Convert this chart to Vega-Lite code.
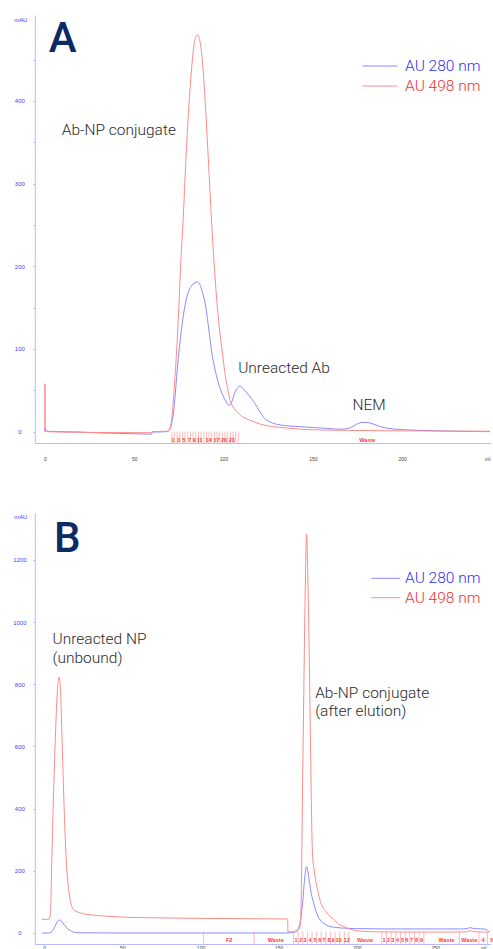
{
  "$schema": "https://vega.github.io/schema/vega-lite/v6.json",
  "padding": {"left": 11.8, "top": 15, "right": 0, "bottom": 0},
  "spacing": 70,
  "bounds": "flush",
  "config": {
    "view": {"stroke": null},
    "axis": {"grid": false, "domainColor": "#b9b9ff", "tickColor": "#b9b9ff", "labelFont": "Liberation Sans", "titleFont": "Liberation Sans", "titleFontWeight": "normal"},
    "legend": {"orient": "none", "title": null, "symbolSize": 64, "symbolStrokeWidth": 1, "labelFont": "Roboto", "labelFontWeight": 300, "labelFontSize": 15.5, "padding": 0, "labelLimit": 300}
  },
  "datasets": {
    "curvesA": [
      {"ml": 0, "mAU": 0, "s": "AU 280 nm"}, {"ml": 0.3, "mAU": 5, "s": "AU 280 nm"}, {"ml": 0.8, "mAU": 1, "s": "AU 280 nm"}, {"ml": 2, "mAU": 0.5, "s": "AU 280 nm"}, {"ml": 10, "mAU": 0, "s": "AU 280 nm"}, {"ml": 20, "mAU": -0.5, "s": "AU 280 nm"}, {"ml": 30, "mAU": -1.5, "s": "AU 280 nm"}, {"ml": 40, "mAU": -2, "s": "AU 280 nm"}, {"ml": 50, "mAU": -2.5, "s": "AU 280 nm"}, {"ml": 59.8, "mAU": -3, "s": "AU 280 nm"}, {"ml": 60, "mAU": -0.5, "s": "AU 280 nm"}, {"ml": 65, "mAU": -0.3, "s": "AU 280 nm"}, {"ml": 68, "mAU": 0, "s": "AU 280 nm"}, {"ml": 69, "mAU": 0.5, "s": "AU 280 nm"}, {"ml": 70, "mAU": 3, "s": "AU 280 nm"}, {"ml": 71, "mAU": 10, "s": "AU 280 nm"}, {"ml": 72, "mAU": 22, "s": "AU 280 nm"}, {"ml": 73, "mAU": 45, "s": "AU 280 nm"}, {"ml": 74, "mAU": 72, "s": "AU 280 nm"}, {"ml": 75, "mAU": 95, "s": "AU 280 nm"}, {"ml": 76, "mAU": 115, "s": "AU 280 nm"}, {"ml": 77, "mAU": 132, "s": "AU 280 nm"}, {"ml": 78, "mAU": 147, "s": "AU 280 nm"}, {"ml": 79, "mAU": 158, "s": "AU 280 nm"}, {"ml": 80, "mAU": 167, "s": "AU 280 nm"}, {"ml": 82, "mAU": 176, "s": "AU 280 nm"}, {"ml": 84, "mAU": 180, "s": "AU 280 nm"}, {"ml": 85.4, "mAU": 181, "s": "AU 280 nm"}, {"ml": 87, "mAU": 177, "s": "AU 280 nm"}, {"ml": 88, "mAU": 170, "s": "AU 280 nm"}, {"ml": 90, "mAU": 152, "s": "AU 280 nm"}, {"ml": 92, "mAU": 120, "s": "AU 280 nm"}, {"ml": 93.5, "mAU": 95, "s": "AU 280 nm"}, {"ml": 95, "mAU": 78, "s": "AU 280 nm"}, {"ml": 97, "mAU": 60, "s": "AU 280 nm"}, {"ml": 98.5, "mAU": 50, "s": "AU 280 nm"}, {"ml": 100, "mAU": 42, "s": "AU 280 nm"}, {"ml": 101.5, "mAU": 36, "s": "AU 280 nm"}, {"ml": 103, "mAU": 32, "s": "AU 280 nm"}, {"ml": 104, "mAU": 33, "s": "AU 280 nm"}, {"ml": 105, "mAU": 38, "s": "AU 280 nm"}, {"ml": 106, "mAU": 45, "s": "AU 280 nm"}, {"ml": 107.5, "mAU": 52, "s": "AU 280 nm"}, {"ml": 109.3, "mAU": 55, "s": "AU 280 nm"}, {"ml": 111, "mAU": 52, "s": "AU 280 nm"}, {"ml": 113, "mAU": 47, "s": "AU 280 nm"}, {"ml": 115, "mAU": 42, "s": "AU 280 nm"}, {"ml": 117, "mAU": 36, "s": "AU 280 nm"}, {"ml": 119, "mAU": 29, "s": "AU 280 nm"}, {"ml": 121, "mAU": 22, "s": "AU 280 nm"}, {"ml": 123, "mAU": 16, "s": "AU 280 nm"}, {"ml": 125, "mAU": 13, "s": "AU 280 nm"}, {"ml": 128, "mAU": 10, "s": "AU 280 nm"}, {"ml": 132, "mAU": 8, "s": "AU 280 nm"}, {"ml": 136, "mAU": 7, "s": "AU 280 nm"}, {"ml": 143, "mAU": 6, "s": "AU 280 nm"}, {"ml": 150, "mAU": 5, "s": "AU 280 nm"}, {"ml": 158, "mAU": 4, "s": "AU 280 nm"}, {"ml": 165, "mAU": 3, "s": "AU 280 nm"}, {"ml": 170, "mAU": 4, "s": "AU 280 nm"}, {"ml": 173, "mAU": 7, "s": "AU 280 nm"}, {"ml": 176, "mAU": 10.5, "s": "AU 280 nm"}, {"ml": 178, "mAU": 11.3, "s": "AU 280 nm"}, {"ml": 181, "mAU": 11, "s": "AU 280 nm"}, {"ml": 184, "mAU": 9, "s": "AU 280 nm"}, {"ml": 188, "mAU": 6, "s": "AU 280 nm"}, {"ml": 192, "mAU": 4, "s": "AU 280 nm"}, {"ml": 200, "mAU": 2.5, "s": "AU 280 nm"}, {"ml": 210, "mAU": 1.5, "s": "AU 280 nm"}, {"ml": 220, "mAU": 1, "s": "AU 280 nm"}, {"ml": 230, "mAU": 0.5, "s": "AU 280 nm"}, {"ml": 240, "mAU": 0.3, "s": "AU 280 nm"}, {"ml": 249, "mAU": 0, "s": "AU 280 nm"},
      {"ml": 0, "mAU": 0, "s": "AU 498 nm"}, {"ml": 0.05, "mAU": 58, "s": "AU 498 nm"}, {"ml": 0.25, "mAU": 2, "s": "AU 498 nm"}, {"ml": 1, "mAU": 0, "s": "AU 498 nm"}, {"ml": 10, "mAU": -0.5, "s": "AU 498 nm"}, {"ml": 30, "mAU": -1, "s": "AU 498 nm"}, {"ml": 50, "mAU": -1.2, "s": "AU 498 nm"}, {"ml": 59.8, "mAU": -1.3, "s": "AU 498 nm"}, {"ml": 60, "mAU": 0, "s": "AU 498 nm"}, {"ml": 68, "mAU": 0.5, "s": "AU 498 nm"}, {"ml": 69.5, "mAU": 2, "s": "AU 498 nm"}, {"ml": 70.5, "mAU": 8, "s": "AU 498 nm"}, {"ml": 71.5, "mAU": 25, "s": "AU 498 nm"}, {"ml": 72.5, "mAU": 55, "s": "AU 498 nm"}, {"ml": 73.7, "mAU": 95, "s": "AU 498 nm"}, {"ml": 75, "mAU": 150, "s": "AU 498 nm"}, {"ml": 76, "mAU": 200, "s": "AU 498 nm"}, {"ml": 77.4, "mAU": 256, "s": "AU 498 nm"}, {"ml": 79, "mAU": 330, "s": "AU 498 nm"}, {"ml": 80.5, "mAU": 390, "s": "AU 498 nm"}, {"ml": 82, "mAU": 435, "s": "AU 498 nm"}, {"ml": 83.5, "mAU": 468, "s": "AU 498 nm"}, {"ml": 85.4, "mAU": 480, "s": "AU 498 nm"}, {"ml": 87, "mAU": 470, "s": "AU 498 nm"}, {"ml": 88.5, "mAU": 440, "s": "AU 498 nm"}, {"ml": 90, "mAU": 390, "s": "AU 498 nm"}, {"ml": 91.5, "mAU": 330, "s": "AU 498 nm"}, {"ml": 93.3, "mAU": 256, "s": "AU 498 nm"}, {"ml": 95, "mAU": 195, "s": "AU 498 nm"}, {"ml": 97, "mAU": 140, "s": "AU 498 nm"}, {"ml": 99.4, "mAU": 95, "s": "AU 498 nm"}, {"ml": 101, "mAU": 68, "s": "AU 498 nm"}, {"ml": 102.5, "mAU": 50, "s": "AU 498 nm"}, {"ml": 104, "mAU": 36, "s": "AU 498 nm"}, {"ml": 106, "mAU": 28, "s": "AU 498 nm"}, {"ml": 108, "mAU": 23, "s": "AU 498 nm"}, {"ml": 110, "mAU": 19, "s": "AU 498 nm"}, {"ml": 113, "mAU": 15.5, "s": "AU 498 nm"}, {"ml": 117, "mAU": 12, "s": "AU 498 nm"}, {"ml": 120, "mAU": 9.5, "s": "AU 498 nm"}, {"ml": 124, "mAU": 7.5, "s": "AU 498 nm"}, {"ml": 128, "mAU": 6, "s": "AU 498 nm"}, {"ml": 135, "mAU": 4.5, "s": "AU 498 nm"}, {"ml": 143, "mAU": 3, "s": "AU 498 nm"}, {"ml": 155, "mAU": 2, "s": "AU 498 nm"}, {"ml": 170, "mAU": 1.5, "s": "AU 498 nm"}, {"ml": 200, "mAU": 1, "s": "AU 498 nm"}, {"ml": 249, "mAU": 0.5, "s": "AU 498 nm"}
    ],
    "curvesB": [
      {"ml": -1.5, "mAU": 0, "s": "AU 280 nm"}, {"ml": 3, "mAU": 0, "s": "AU 280 nm"}, {"ml": 4.3, "mAU": 2, "s": "AU 280 nm"}, {"ml": 6, "mAU": 12, "s": "AU 280 nm"}, {"ml": 8, "mAU": 32, "s": "AU 280 nm"}, {"ml": 9.6, "mAU": 42, "s": "AU 280 nm"}, {"ml": 11, "mAU": 38, "s": "AU 280 nm"}, {"ml": 13, "mAU": 25, "s": "AU 280 nm"}, {"ml": 15, "mAU": 14, "s": "AU 280 nm"}, {"ml": 17, "mAU": 7, "s": "AU 280 nm"}, {"ml": 19, "mAU": 3, "s": "AU 280 nm"}, {"ml": 21, "mAU": 1, "s": "AU 280 nm"}, {"ml": 25, "mAU": 0.5, "s": "AU 280 nm"}, {"ml": 50, "mAU": 0, "s": "AU 280 nm"}, {"ml": 100, "mAU": 0, "s": "AU 280 nm"}, {"ml": 155, "mAU": 0, "s": "AU 280 nm"}, {"ml": 158, "mAU": 1, "s": "AU 280 nm"}, {"ml": 160, "mAU": 2, "s": "AU 280 nm"}, {"ml": 161.5, "mAU": 5, "s": "AU 280 nm"}, {"ml": 163, "mAU": 20, "s": "AU 280 nm"}, {"ml": 164.5, "mAU": 60, "s": "AU 280 nm"}, {"ml": 165.5, "mAU": 110, "s": "AU 280 nm"}, {"ml": 166.3, "mAU": 160, "s": "AU 280 nm"}, {"ml": 167, "mAU": 195, "s": "AU 280 nm"}, {"ml": 167.8, "mAU": 213, "s": "AU 280 nm"}, {"ml": 168.6, "mAU": 200, "s": "AU 280 nm"}, {"ml": 169.5, "mAU": 170, "s": "AU 280 nm"}, {"ml": 170.5, "mAU": 135, "s": "AU 280 nm"}, {"ml": 171.5, "mAU": 112, "s": "AU 280 nm"}, {"ml": 172.2, "mAU": 100, "s": "AU 280 nm"}, {"ml": 173.5, "mAU": 75, "s": "AU 280 nm"}, {"ml": 175, "mAU": 55, "s": "AU 280 nm"}, {"ml": 177, "mAU": 38, "s": "AU 280 nm"}, {"ml": 179, "mAU": 30, "s": "AU 280 nm"}, {"ml": 182, "mAU": 22, "s": "AU 280 nm"}, {"ml": 186, "mAU": 18, "s": "AU 280 nm"}, {"ml": 190, "mAU": 16, "s": "AU 280 nm"}, {"ml": 200, "mAU": 14, "s": "AU 280 nm"}, {"ml": 220, "mAU": 13, "s": "AU 280 nm"}, {"ml": 250, "mAU": 13, "s": "AU 280 nm"}, {"ml": 268, "mAU": 13, "s": "AU 280 nm"}, {"ml": 270.5, "mAU": 14, "s": "AU 280 nm"}, {"ml": 272.5, "mAU": 17, "s": "AU 280 nm"}, {"ml": 275, "mAU": 14, "s": "AU 280 nm"}, {"ml": 280, "mAU": 13, "s": "AU 280 nm"}, {"ml": 282.5, "mAU": 12, "s": "AU 280 nm"}, {"ml": 284, "mAU": 5, "s": "AU 280 nm"}, {"ml": 285, "mAU": 3, "s": "AU 280 nm"},
      {"ml": -1.5, "mAU": 44, "s": "AU 498 nm"}, {"ml": 3, "mAU": 44, "s": "AU 498 nm"}, {"ml": 4, "mAU": 60, "s": "AU 498 nm"}, {"ml": 5, "mAU": 250, "s": "AU 498 nm"}, {"ml": 5.8, "mAU": 406, "s": "AU 498 nm"}, {"ml": 7, "mAU": 600, "s": "AU 498 nm"}, {"ml": 8.5, "mAU": 780, "s": "AU 498 nm"}, {"ml": 9.6, "mAU": 823, "s": "AU 498 nm"}, {"ml": 10.5, "mAU": 780, "s": "AU 498 nm"}, {"ml": 11.5, "mAU": 620, "s": "AU 498 nm"}, {"ml": 12.8, "mAU": 406, "s": "AU 498 nm"}, {"ml": 14, "mAU": 250, "s": "AU 498 nm"}, {"ml": 15.5, "mAU": 150, "s": "AU 498 nm"}, {"ml": 17.7, "mAU": 85, "s": "AU 498 nm"}, {"ml": 19.5, "mAU": 72, "s": "AU 498 nm"}, {"ml": 21.3, "mAU": 68, "s": "AU 498 nm"}, {"ml": 25, "mAU": 62, "s": "AU 498 nm"}, {"ml": 30, "mAU": 58, "s": "AU 498 nm"}, {"ml": 40, "mAU": 54, "s": "AU 498 nm"}, {"ml": 50, "mAU": 51, "s": "AU 498 nm"}, {"ml": 68, "mAU": 49, "s": "AU 498 nm"}, {"ml": 100, "mAU": 47, "s": "AU 498 nm"}, {"ml": 130, "mAU": 46, "s": "AU 498 nm"}, {"ml": 155.7, "mAU": 45, "s": "AU 498 nm"}, {"ml": 155.9, "mAU": 4, "s": "AU 498 nm"}, {"ml": 158, "mAU": 4, "s": "AU 498 nm"}, {"ml": 160, "mAU": 6, "s": "AU 498 nm"}, {"ml": 162, "mAU": 9, "s": "AU 498 nm"}, {"ml": 163.7, "mAU": 20, "s": "AU 498 nm"}, {"ml": 164.5, "mAU": 150, "s": "AU 498 nm"}, {"ml": 165.2, "mAU": 450, "s": "AU 498 nm"}, {"ml": 165.8, "mAU": 685, "s": "AU 498 nm"}, {"ml": 166.8, "mAU": 1050, "s": "AU 498 nm"}, {"ml": 167.8, "mAU": 1283, "s": "AU 498 nm"}, {"ml": 168.8, "mAU": 1100, "s": "AU 498 nm"}, {"ml": 169.5, "mAU": 900, "s": "AU 498 nm"}, {"ml": 170.1, "mAU": 685, "s": "AU 498 nm"}, {"ml": 171.6, "mAU": 257, "s": "AU 498 nm"}, {"ml": 173, "mAU": 190, "s": "AU 498 nm"}, {"ml": 175, "mAU": 135, "s": "AU 498 nm"}, {"ml": 177, "mAU": 96, "s": "AU 498 nm"}, {"ml": 180, "mAU": 70, "s": "AU 498 nm"}, {"ml": 183, "mAU": 52, "s": "AU 498 nm"}, {"ml": 185.6, "mAU": 42, "s": "AU 498 nm"}, {"ml": 188, "mAU": 30, "s": "AU 498 nm"}, {"ml": 192, "mAU": 20, "s": "AU 498 nm"}, {"ml": 196, "mAU": 12, "s": "AU 498 nm"}, {"ml": 200, "mAU": 7, "s": "AU 498 nm"}, {"ml": 210, "mAU": 4, "s": "AU 498 nm"}, {"ml": 230, "mAU": 3, "s": "AU 498 nm"}, {"ml": 265, "mAU": 3, "s": "AU 498 nm"}, {"ml": 270.5, "mAU": 4, "s": "AU 498 nm"}, {"ml": 272.5, "mAU": 8, "s": "AU 498 nm"}, {"ml": 275, "mAU": 4, "s": "AU 498 nm"}, {"ml": 282, "mAU": 3, "s": "AU 498 nm"}, {"ml": 284, "mAU": 1, "s": "AU 498 nm"}
    ],
    "fracLinesA": [
      {"ml": 71.05}, {"ml": 72.54}, {"ml": 74.03}, {"ml": 75.52}, {"ml": 77.01}, {"ml": 78.5}, {"ml": 79.99}, {"ml": 81.48}, {"ml": 82.97}, {"ml": 84.46}, {"ml": 85.95}, {"ml": 87.44}, {"ml": 88.93}, {"ml": 90.42}, {"ml": 91.91}, {"ml": 93.4}, {"ml": 94.89}, {"ml": 96.38}, {"ml": 97.87}, {"ml": 99.36}, {"ml": 100.85}, {"ml": 102.34}, {"ml": 103.83}, {"ml": 105.32}, {"ml": 106.81}, {"ml": 108.3}
    ],
    "fracLabelsA": [
      {"ml": 71.8, "t": "1"}, {"ml": 74.8, "t": "3"}, {"ml": 77.9, "t": "5"}, {"ml": 81.0, "t": "7"}, {"ml": 83.6, "t": "9"}, {"ml": 86.7, "t": "11"}, {"ml": 91.6, "t": "14"}, {"ml": 96.1, "t": "17"}, {"ml": 100.3, "t": "20"}, {"ml": 104.6, "t": "23"}, {"ml": 180.5, "t": "Waste"}
    ],
    "fracLinesB": [
      {"ml": 101.9}, {"ml": 134.3}, {"ml": 159.5}, {"ml": 162.45}, {"ml": 165.4}, {"ml": 168.35}, {"ml": 171.3}, {"ml": 174.25}, {"ml": 177.2}, {"ml": 180.15}, {"ml": 183.1}, {"ml": 186.05}, {"ml": 189.0}, {"ml": 191.95}, {"ml": 194.9}, {"ml": 215.9}, {"ml": 218.9}, {"ml": 221.9}, {"ml": 224.9}, {"ml": 227.9}, {"ml": 230.9}, {"ml": 233.8}, {"ml": 236.8}, {"ml": 239.8}, {"ml": 242.8}, {"ml": 265.5}, {"ml": 278}, {"ml": 283.4}
    ],
    "fracLabelsB": [
      {"ml": 118.3, "t": "F2"}, {"ml": 148.1, "t": "Waste"},
      {"ml": 161, "t": "1"}, {"ml": 164.1, "t": "2"}, {"ml": 166.9, "t": "3"}, {"ml": 170.1, "t": "4"}, {"ml": 173.3, "t": "5"}, {"ml": 176.3, "t": "6"}, {"ml": 179, "t": "7"}, {"ml": 182.2, "t": "8"}, {"ml": 184.8, "t": "9"}, {"ml": 188.2, "t": "10"}, {"ml": 193.5, "t": "12"},
      {"ml": 205.2, "t": "Waste"},
      {"ml": 217.4, "t": "1"}, {"ml": 220.2, "t": "2"}, {"ml": 222.9, "t": "3"}, {"ml": 225.9, "t": "4"}, {"ml": 229.2, "t": "5"}, {"ml": 231.9, "t": "6"}, {"ml": 234.9, "t": "7"}, {"ml": 238.1, "t": "8"}, {"ml": 241.3, "t": "9"},
      {"ml": 257.3, "t": "Waste"}, {"ml": 271.8, "t": "Waste"}, {"ml": 280.7, "t": "4"}, {"ml": 286.3, "t": "5"}
    ],
    "annA": [
      {"ml": 9.5, "mAU": 358.5, "t": "Ab-NP conjugate"},
      {"ml": 108.2, "mAU": 70.5, "t": "Unreacted Ab"},
      {"ml": 172.2, "mAU": 26.2, "t": "NEM"}
    ],
    "annB": [
      {"ml": 5.4, "mAU": 928, "t": "Unreacted NP"},
      {"ml": 5.4, "mAU": 869, "t": "(unbound)"},
      {"ml": 173.3, "mAU": 754.7, "t": "Ab-NP conjugate"},
      {"ml": 173.3, "mAU": 697.7, "t": "(after elution)"}
    ],
    "letterA": [{"ml": 2.2, "mAU": 459.5, "t": "A"}],
    "letterB": [{"ml": 6.4, "mAU": 1224, "t": "B"}]
  },
  "vconcat": [
    {
      "width": 456,
      "height": 428,
      "layer": [
        {
          "data": {"name": "curvesA"},
          "mark": {"type": "line", "strokeWidth": 1, "interpolate": "monotone", "clip": true},
          "encoding": {
            "x": {"field": "ml", "type": "quantitative", "scale": {"domain": [-5.6, 249.6], "nice": false, "zero": false},
              "axis": {"values": [0, 50, 100, 150, 200], "ticks": false, "labelPadding": 13.5, "labelFontSize": 5, "labelColor": "#444444", "title": "ml", "titleFontSize": 5, "titleColor": "#444444", "titleAnchor": "end", "titleAlign": "right", "titleAngle": 0, "titleBaseline": "top", "titleX": 455, "titleY": 13.5}},
            "y": {"field": "mAU", "type": "quantitative", "scale": {"domain": [-13.7, 503.9], "nice": false, "zero": false},
              "axis": {"values": [0, 50, 100, 150, 200, 250, 300, 350, 400, 450], "labelExpr": "datum.value % 100 === 0 ? datum.label : ''", "tickSize": 2, "labelPadding": 13.5, "labelAlign": "center", "labelBaseline": "middle", "labelFontSize": 6, "labelColor": "#3d3dff", "title": "mAU", "titleFontSize": 6, "titleColor": "#3d3dff", "titleAngle": 0, "titleAlign": "center", "titleBaseline": "middle", "titleX": -14.5, "titleY": 4}},
            "color": {"field": "s", "type": "nominal", "scale": {"domain": ["AU 280 nm", "AU 498 nm"], "range": ["#8a8aff", "#ff8a8a"]},
              "legend": {"legendX": 337.45, "legendY": 43.25, "symbolType": "M-4.375,0H4.375", "labelOffset": 17.35, "rowPadding": 3, "encode": {"labels": {"update": {"fill": {"signal": "datum.value === 'AU 280 nm' ? '#3030f5' : '#f53030'"}}}}}}
          }
        },
        {
          "data": {"name": "fracLinesA"},
          "mark": {"type": "rule", "color": "#ffa8a8", "strokeWidth": 0.8},
          "encoding": {"x": {"field": "ml", "type": "quantitative"}, "y": {"datum": 0}, "y2": {"datum": -13.7}}
        },
        {
          "data": {"name": "fracLabelsA"},
          "mark": {"type": "text", "font": "Liberation Sans", "fontSize": 5.5, "fontWeight": "bold", "color": "#ff3a3a", "baseline": "middle"},
          "encoding": {"x": {"field": "ml", "type": "quantitative"}, "y": {"datum": -10}, "text": {"field": "t"}}
        },
        {
          "data": {"name": "annA"},
          "mark": {"type": "text", "font": "Roboto", "fontWeight": 300, "fontSize": 15.5, "color": "#2a2a2a", "align": "left", "baseline": "alphabetic"},
          "encoding": {"x": {"field": "ml", "type": "quantitative"}, "y": {"field": "mAU", "type": "quantitative"}, "text": {"field": "t"}}
        },
        {
          "data": {"name": "letterA"},
          "mark": {"type": "text", "font": "Roboto", "fontWeight": 500, "fontSize": 42, "color": "#0c2a66", "align": "left", "baseline": "alphabetic"},
          "encoding": {"x": {"field": "ml", "type": "quantitative"}, "y": {"field": "mAU", "type": "quantitative"}, "text": {"field": "t"}}
        }
      ]
    },
    {
      "width": 456,
      "height": 431,
      "layer": [
        {
          "data": {"name": "curvesB"},
          "mark": {"type": "line", "strokeWidth": 1, "interpolate": "monotone", "clip": true},
          "encoding": {
            "x": {"field": "ml", "type": "quantitative", "scale": {"domain": [-5.95, 285.6], "nice": false, "zero": false},
              "axis": {"values": [0, 50, 100, 150, 200, 250], "ticks": false, "labelPadding": 2, "labelFontSize": 5, "labelColor": "#444444", "title": "ml", "titleFontSize": 5, "titleColor": "#444444", "titleAnchor": "end", "titleAlign": "right", "titleAngle": 0, "titleBaseline": "top", "titleX": 451, "titleY": 2}},
            "y": {"field": "mAU", "type": "quantitative", "scale": {"domain": [-35.4, 1350.5], "nice": false, "zero": false},
              "axis": {"values": [0, 100, 200, 300, 400, 500, 600, 700, 800, 900, 1000, 1100, 1200, 1300], "labelExpr": "datum.value % 200 === 0 ? datum.label : ''", "format": "d", "tickSize": 2, "labelPadding": 13.5, "labelAlign": "center", "labelBaseline": "middle", "labelFontSize": 6, "labelColor": "#3d3dff", "title": "mAU", "titleFontSize": 6, "titleColor": "#3d3dff", "titleAngle": 0, "titleAlign": "center", "titleBaseline": "middle", "titleX": -14.5, "titleY": 4}},
            "color": {"field": "s", "type": "nominal", "scale": {"domain": ["AU 280 nm", "AU 498 nm"], "range": ["#8a8aff", "#ff8a8a"]},
              "legend": {"legendX": 343.25, "legendY": 57.55, "symbolType": "M-3.625,0H3.625", "labelOffset": 11.55, "rowPadding": 2.4, "encode": {"labels": {"update": {"fill": {"signal": "datum.value === 'AU 280 nm' ? '#3030f5' : '#f53030'"}}}}}}
          }
        },
        {
          "data": {"name": "fracLinesB"},
          "mark": {"type": "rule", "color": "#ffa8a8", "strokeWidth": 0.8},
          "encoding": {"x": {"field": "ml", "type": "quantitative"}, "y": {"datum": 5}, "y2": {"datum": -35.4}}
        },
        {
          "data": {"name": "fracLabelsB"},
          "mark": {"type": "text", "font": "Liberation Sans", "fontSize": 5.5, "fontWeight": "bold", "color": "#ff3a3a", "baseline": "middle"},
          "encoding": {"x": {"field": "ml", "type": "quantitative"}, "y": {"datum": -22.5}, "text": {"field": "t"}}
        },
        {
          "data": {"name": "annB"},
          "mark": {"type": "text", "font": "Roboto", "fontWeight": 300, "fontSize": 15.5, "color": "#2a2a2a", "align": "left", "baseline": "alphabetic"},
          "encoding": {"x": {"field": "ml", "type": "quantitative"}, "y": {"field": "mAU", "type": "quantitative"}, "text": {"field": "t"}}
        },
        {
          "data": {"name": "letterB"},
          "mark": {"type": "text", "font": "Roboto", "fontWeight": 500, "fontSize": 42, "color": "#0c2a66", "align": "left", "baseline": "alphabetic"},
          "encoding": {"x": {"field": "ml", "type": "quantitative"}, "y": {"field": "mAU", "type": "quantitative"}, "text": {"field": "t"}}
        }
      ]
    }
  ],
  "resolve": {"scale": {"color": "independent"}, "legend": {"color": "independent"}}
}
